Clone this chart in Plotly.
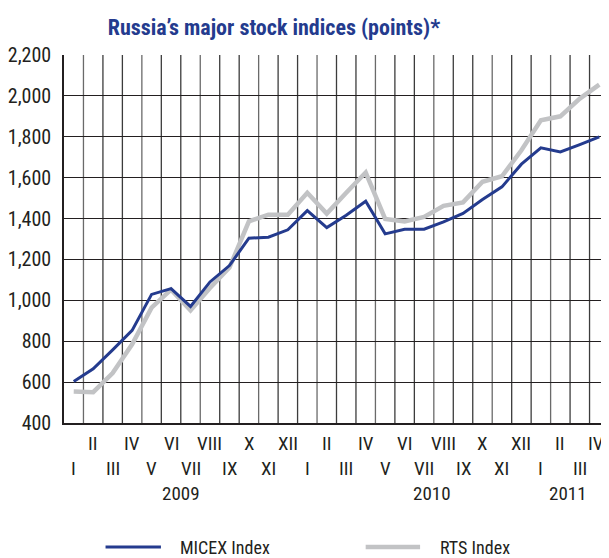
import plotly.graph_objects as go

months = ["I", "II", "III", "IV", "V", "VI", "VII", "VIII", "IX", "X", "XI", "XII",
          "I", "II", "III", "IV", "V", "VI", "VII", "VIII", "IX", "X", "XI", "XII",
          "I", "II", "III", "IV"]
micex = [603, 665, 758, 853, 1029, 1057, 970, 1090, 1170, 1304, 1309, 1345,
         1439, 1356, 1416, 1485, 1325, 1348, 1348, 1384, 1425, 1493, 1555, 1666,
         1746, 1726, 1762, 1800]
rts = [554, 551, 644, 785, 964, 1052, 951, 1060, 1160, 1386, 1419, 1419,
       1526, 1424, 1526, 1625, 1398, 1386, 1408, 1462, 1479, 1580, 1607, 1734,
       1881, 1900, 1987, 2055]
years = ["2009", "2010", "2011"]
year_pos = [5.5, 18.4, 25.4]
y_ticks = [400, 600, 800, 1000, 1200, 1400, 1600, 1800, 2000, 2200]

FONT = "Roboto Condensed, DejaVu Sans Condensed, sans-serif"
BLUE = "#243b8e"
GRAY = "#c2c3c5"
TXT = "#231f20"

W, H = 601, 550
ML, MT, MB, MR = 50, 47, 135, 0
PH = H - MT - MB
PW = W - ML - MR


def py(fy):
    """figure pixel y -> paper y"""
    return (H - MB - fy) / PH


def px(fx):
    return (fx - ML) / PW


x = list(range(len(months)))

fig = go.Figure()
fig.add_trace(go.Scatter(x=x, y=rts, mode="lines", name="RTS Index",
                         line=dict(color=GRAY, width=4.5), showlegend=False))
fig.add_trace(go.Scatter(x=x, y=micex, mode="lines", name="MICEX Index",
                         line=dict(color=BLUE, width=3), showlegend=False))

# vertical month boundary grid
bounds = [i - 0.5 for i in range(len(months) + 1)]
for i, b in enumerate(bounds[1:], start=1):
    fig.add_shape(type="line", xref="x", yref="paper", x0=b, x1=b, y0=0, y1=1,
                  line=dict(color="#6a6a6a" if i % 3 == 1 else "#3c3c3c", width=1.3),
                  layer="below")

for i, m in enumerate(months):
    fig.add_annotation(x=i, y=py(435) if i % 2 == 1 else py(460), xref="x", yref="paper",
                       text=m, showarrow=False, yanchor="middle",
                       xshift=-3 if i == len(months) - 1 else 0,
                       font=dict(family=FONT, size=19, color=TXT))
for yr, p in zip(years, year_pos):
    fig.add_annotation(x=p, y=py(485), xref="x", yref="paper", text=yr,
                       showarrow=False, yanchor="middle",
                       font=dict(family=FONT, size=19, color=TXT))

# legend built as line shapes + text below the plot
for (x0, x1, col, w, label, tx) in [(92, 148, BLUE, 3, "MICEX Index", 165),
                                     (355, 410, GRAY, 4.5, "RTS Index", 428)]:
    yy = py(539)
    fig.add_shape(type="line", xref="paper", yref="paper", x0=px(x0), x1=px(x1), y0=yy, y1=yy,
                  line=dict(color=col, width=w))
    fig.add_annotation(x=px(tx), y=yy, xref="paper", yref="paper", text=label, showarrow=False,
                       xanchor="left", yanchor="middle",
                       font=dict(family=FONT, size=18, color=TXT))

fig.update_layout(
    width=W, height=H,
    margin=dict(l=ML, r=MR, t=MT, b=MB),
    paper_bgcolor="white", plot_bgcolor="white",
    title=dict(text="<b>Russia’s major stock indices (points)*</b>", x=266 / W, xanchor="center",
               y=1 - 19 / H, yanchor="middle",
               font=dict(family=FONT, size=22, color=BLUE)),
    xaxis=dict(range=[-0.5, 27.5], showgrid=False, zeroline=False, showticklabels=False,
               showline=True, linecolor="#231f20", linewidth=1.5, fixedrange=True),
    yaxis=dict(range=[400, 2200], tickvals=y_ticks,
               ticktext=[f"{v:,}" for v in y_ticks], showgrid=True, gridcolor="#231f20",
               gridwidth=1.3, zeroline=False, showline=True, linecolor="#231f20", linewidth=1.5,
               ticks="", ticklabelstandoff=7,
               tickfont=dict(family=FONT, size=20, color=TXT)),
    showlegend=False,
)

fig.write_html("out.html")
